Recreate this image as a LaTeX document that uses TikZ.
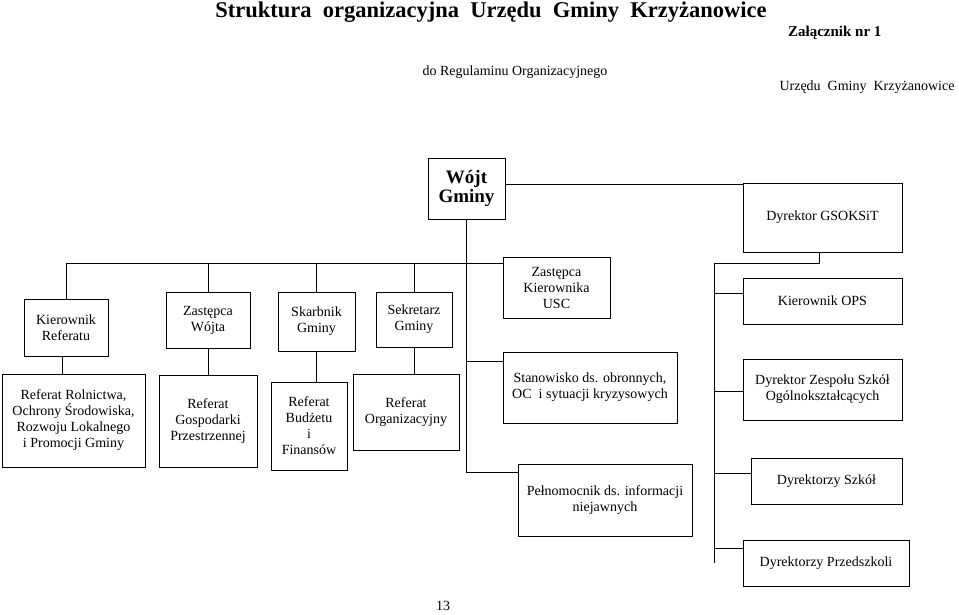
\documentclass[tikz,border=0pt]{standalone}
\usepackage{fontspec}
\setmainfont{Liberation Serif}
\usetikzlibrary{positioning}
\tikzset{
  box/.style={draw, line width=0.7pt, inner sep=1pt, align=center,
              font=\fontsize{14}{16}\selectfont},
  conn/.style={line width=0.9pt}
}
\newcommand{\boxat}[6]{% name, x1, y1, x2, y2, text
  \node[box, minimum width=#4pt-#2pt, minimum height=#5pt-#3pt] (#1)
    at ({(#2+#4)/2},{(#3+#5)/2}) {#6};}
\begin{document}
\begin{tikzpicture}[x=1pt,y=-1pt]
  \useasboundingbox (0,0) rectangle (959,614);
  % naglowek
  \node[font=\bfseries\fontsize{22.5}{26}\selectfont] (tytul) at (491,12)
    {Struktura\ \ organizacyjna\ \ Urzędu\ \ Gminy\ \ Krzyżanowice};
  \node[font=\bfseries\fontsize{15}{18}\selectfont, anchor=east] (zal) at (885,33) {Załącznik nr 1};
  \node[font=\fontsize{14}{16}\selectfont] (regul) at (515,72) {do Regulaminu Organizacyjnego};
  \node[font=\fontsize{14}{16}\selectfont, anchor=east] (urz) at (958,87) {Urzędu\ \ Gminy\ \ Krzyżanowice};
  \node[font=\fontsize{14}{16}\selectfont] (strona) at (443,606) {13};

  % gora
  \boxat{wojt}{428}{158}{505}{219}{\bfseries\fontsize{19}{22}\selectfont Wójt\\\bfseries\fontsize{19}{22}\selectfont Gminy}
  \boxat{gsok}{743}{183}{902}{252}{Dyrektor GSOKSiT}

  % druga linia
  \boxat{kref}{24}{299}{108}{356}{Kierownik\\Referatu}
  \boxat{zwoj}{166}{292}{250}{348}{Zastępca\\Wójta}
  \boxat{skarb}{278}{292}{355}{351}{Skarbnik\\Gminy}
  \boxat{sekr}{376}{292}{452}{347}{Sekretarz\\Gminy}
  \boxat{usc}{503}{257}{610}{318}{Zastępca\\Kierownika\\USC}
  \boxat{ops}{743}{278}{902}{324}{Kierownik OPS}

  % referaty
  \boxat{rroln}{2}{374}{145}{467}{Referat Rolnictwa,\\Ochrony Środowiska,\\Rozwoju Lokalnego\\i Promocji Gminy}
  \boxat{rgosp}{159}{375}{257}{467}{Referat\\Gospodarki\\Przestrzennej}
  \boxat{rbudz}{271}{382}{347}{470}{Referat\\Budżetu\\i\\Finansów}
  \boxat{rorg}{353}{374}{459}{450}{Referat\\Organizacyjny}
  \boxat{stan}{503}{352}{677}{423}{Stanowisko ds. obronnych,\\OC\ \ i sytuacji kryzysowych}
  \boxat{pelno}{518}{464}{692}{536}{Pełnomocnik ds. informacji\\niejawnych}
  \boxat{zso}{743}{359}{902}{420}{Dyrektor Zespołu Szkół\\Ogólnokształcących}
  \boxat{szk}{751}{458}{902}{504}{Dyrektorzy Szkół}
  \boxat{przed}{743}{540}{909}{586}{Dyrektorzy Przedszkoli}

  % polaczenia od Wojta
  \coordinate (bus) at (466,263);
  \draw[conn] (wojt.south) -- (wojt.south |- 0,472) -- (pelno.west |- 0,472);
  \draw[conn] (wojt.east |- 0,184) -- (gsok.west |- 0,184);
  \draw[conn] (kref.north |- bus) -- (usc.west |- bus);
  \foreach \n in {kref,zwoj,skarb,sekr}
    \draw[conn] (\n.north) -- (\n.north |- bus);
  \draw[conn] (wojt.south |- 0,361) -- (stan.west |- 0,361);

  % przelozeni i referaty
  \draw[conn] (kref.south -| 62,0) -- (rroln.north -| 62,0);
  \foreach \a/\b in {zwoj/rgosp,skarb/rbudz,sekr/rorg}
    \draw[conn] (\a.south) -- (\a.south |- \b.north);

  % GSOKSiT
  \coordinate (gbus) at (714,263);
  \draw[conn] (gsok.south -| 819,0) -- (819,263) -- (gbus) -- (gbus |- przed.west);
  \foreach \n/\y in {ops/293,zso/391,szk/473,przed/548}
    \draw[conn] (714,\y) -- (\n.west |- 0,\y);
\end{tikzpicture}
\end{document}
